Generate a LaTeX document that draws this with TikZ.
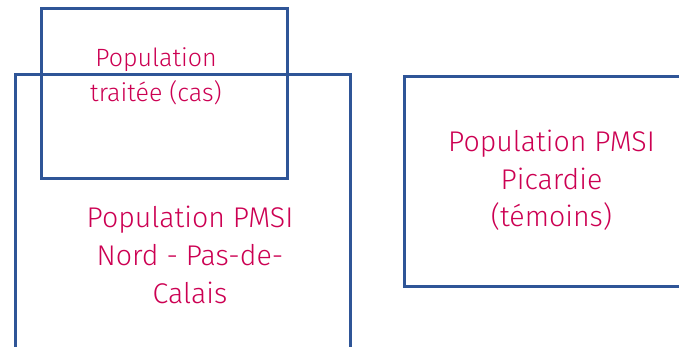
\documentclass[tikz,border=0pt]{standalone}
\usepackage{fontspec}
\setmainfont{Fira Sans Light}
\definecolor{boxblue}{RGB}{47,85,151}
\definecolor{txtred}{RGB}{204,0,82}
\begin{document}
\begin{tikzpicture}[x=1pt,y=-1pt,
  frame/.style={draw=boxblue,line width=3pt,inner sep=0pt,outer sep=0pt,anchor=north west},
  label/.style={text=txtred,align=center,inner sep=0pt,anchor=base}]
\useasboundingbox (0,0) rectangle (679,347);
\node[frame,minimum width=334.5pt,minimum height=300pt] (nord) at (15.5,75) {};
\node[frame,minimum width=246.5pt,minimum height=170.5pt] (cas) at (41,8.5) {};
\node[frame,minimum width=300pt,minimum height=209.5pt] (picardie) at (404.5,77) {};
\node[label,font=\fontsize{25}{35}\selectfont] (tcas) at (156,102) {Population\\traitée (cas)};
\node[label,font=\fontsize{28.5}{38}\selectfont] (tnord) at (190,303) {Population PMSI\\Nord - Pas-de-\\Calais};
\node[label,font=\fontsize{28.5}{37}\selectfont] (tpic) at (551.5,226) {Population PMSI\\Picardie\\(témoins)};
\end{tikzpicture}
\end{document}
